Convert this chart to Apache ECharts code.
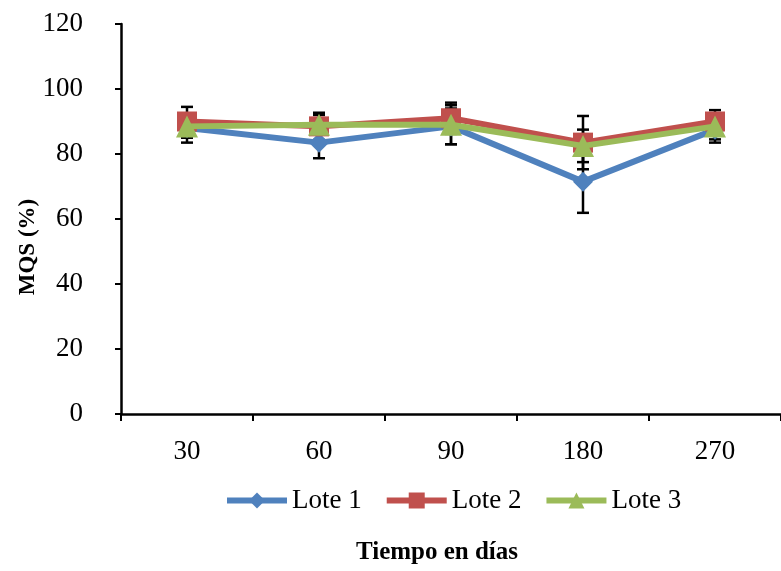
<!DOCTYPE html>
<html><head><meta charset="utf-8">
<script src="https://cdn.jsdelivr.net/npm/echarts@6/dist/echarts.min.js"></script>
<style>html,body{margin:0;padding:0;background:#fff}#c{width:781px;height:571px}</style>
</head><body><div id="c"></div>
<script>
const categories = ['30', '60', '90', '180', '270'];
const lote1 = [88, 83.5, 88.5, 71.5, 87.5];
const lote2 = [90, 88.5, 91, 83.5, 90];
const lote3 = [88.5, 89, 89, 82.5, 88.5];
const err1 = [4.5, 4.8, 5.5, 9.6, 4];
const err2 = [4.5, 4.2, 4.8, 8.2, 3.5];
const err3 = [3.5, 3, 6, 5, 4];
const yTicks = [0, 20, 40, 60, 80, 100, 120];
const seriesNames = ['Lote 1', 'Lote 2', 'Lote 3'];
const colors = ['#4F81BD', '#C0504D', '#9BBB59'];
const symbols = ['diamond', 'rect', 'triangle'];

const FONT = '"Liberation Serif", "Times New Roman", serif';
const chart = echarts.init(document.getElementById('c'), null, {renderer: 'canvas'});

function errSeries(vals, errs) {
  return {
    type: 'custom',
    data: vals.map((v, i) => [i, v, errs[i]]),
    z: 1,
    silent: true,
    renderItem: function (params, api) {
      const x = api.value(0), v = api.value(1), e = api.value(2);
      const hi = api.coord([x, v + e]);
      const lo = api.coord([x, v - e]);
      const w = 6;
      const st = {stroke: '#000', lineWidth: 2.5};
      return {type: 'group', children: [
        {type: 'line', shape: {x1: hi[0], y1: hi[1], x2: lo[0], y2: lo[1]}, style: st},
        {type: 'line', shape: {x1: hi[0] - w, y1: hi[1], x2: hi[0] + w, y2: hi[1]}, style: st},
        {type: 'line', shape: {x1: lo[0] - w, y1: lo[1], x2: lo[0] + w, y2: lo[1]}, style: st}
      ]};
    }
  };
}

const data = [lote1, lote2, lote3];
const errs = [err1, err2, err3];
const lineSeries = data.map((d, k) => ({
  name: seriesNames[k],
  type: 'line',
  data: d,
  symbol: symbols[k],
  symbolSize: k === 2 ? 22 : 20,
  showSymbol: true,
  lineStyle: {width: 6, color: colors[k]},
  itemStyle: {color: colors[k]},
  z: 2 + k
}));

chart.setOption({
  animation: false,
  backgroundColor: '#fff',
  grid: {left: 121, width: 662, top: 24, height: 390},
  legend: {
    data: seriesNames,
    left: 219,
    top: 482,
    itemWidth: 60,
    itemHeight: 20,
    itemGap: 22,
    lineStyle: {width: 6},
    textStyle: {fontFamily: FONT, fontSize: 27, color: '#000'}
  },
  xAxis: {
    type: 'category',
    data: categories,
    boundaryGap: true,
    axisLine: {lineStyle: {color: '#000', width: 2.5}},
    axisTick: {show: true, length: 7, lineStyle: {color: '#000', width: 2}},
    axisLabel: {fontFamily: FONT, fontSize: 27, color: '#000', margin: 24}
  },
  yAxis: {
    type: 'value',
    min: 0, max: 120, interval: 20,
    splitLine: {show: false},
    axisLine: {show: true, lineStyle: {color: '#000', width: 2.5}},
    axisTick: {show: true, length: 6, lineStyle: {color: '#000', width: 2}},
    axisLabel: {fontFamily: FONT, fontSize: 27, color: '#000', margin: 38,
      formatter: v => yTicks.includes(v) ? String(v) : ''}
  },
  graphic: [
    {type: 'text', x: 28, y: 247, rotation: Math.PI / 2,
      style: {text: 'MQS (%)', font: 'bold 23px ' + FONT, fill: '#000', align: 'center', verticalAlign: 'middle'}},
    {type: 'text', x: 437, y: 553,
      style: {text: 'Tiempo en días', font: 'bold 25px ' + FONT, fill: '#000', align: 'center', verticalAlign: 'middle'}}
  ],
  series: lineSeries.concat(data.map((d, k) => errSeries(d, errs[k])))
});
</script></body></html>
